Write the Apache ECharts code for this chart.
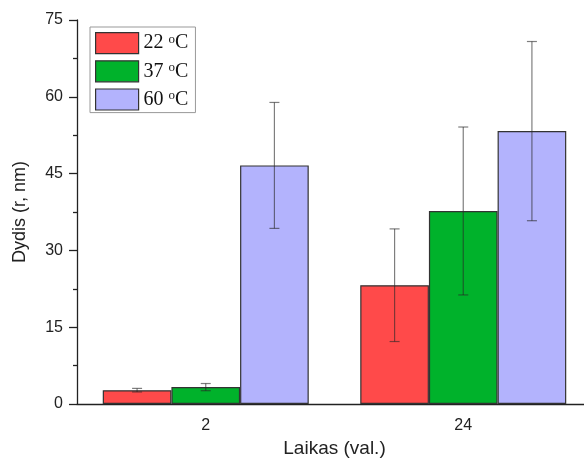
<!DOCTYPE html>
<html><head><meta charset="utf-8">
<script src="https://cdn.jsdelivr.net/npm/echarts@6/dist/echarts.min.js"></script>
<style>html,body{margin:0;padding:0;background:#fff}#c{width:584px;height:463px}</style>
</head><body><div id="c"></div>
<script>
const categories = ['2', '24'];
const seriesNames = ['22', '37', '60'];
const values22 = [2.7, 23.2];
const values37 = [3.3, 37.7];
const values60 = [46.6, 53.3];
const err22 = [0.35, 11.0];
const err37 = [0.7, 16.4];
const err60 = [12.3, 17.5];
const yTicks = [0, 15, 30, 45, 60, 75];

const colors = ['#FF4A4A', '#00B22B', '#B3B3FD'];
const valuesAll = [values22, values37, values60];
const errAll = [err22, err37, err60];
const GAP = 0.2;

const chart = echarts.init(document.getElementById('c'), null, {renderer: 'canvas'});
const series = [];
valuesAll.forEach((vals, i) => {
  series.push({
    name: seriesNames[i],
    type: 'bar',
    data: vals,
    barGap: '0%',
    barCategoryGap: (GAP * 100) + '%',
    itemStyle: {color: colors[i], borderColor: '#333', borderWidth: 1.2},
    emphasis: {disabled: true}
  });
});
valuesAll.forEach((vals, i) => {
  series.push({
    type: 'custom',
    name: seriesNames[i] + 'err',
    data: vals.map((v, k) => [k, v, errAll[i][k]]),
    z: 5,
    silent: true,
    renderItem: function (params, api) {
      const k = api.value(0), v = api.value(1), e = api.value(2);
      const band = api.size([1, 0])[0];
      const bw = band * (1 - GAP) / 3;
      const c = api.coord([k, v]);
      const x = c[0] + (i - 1) * bw;
      const yt = api.coord([k, v + e])[1];
      const yb = api.coord([k, v - e])[1];
      const cap = 5;
      const st = {stroke: 'rgba(40,40,40,0.6)', lineWidth: 1.2};
      return {type: 'group', children: [
        {type: 'line', shape: {x1: x, y1: yt, x2: x, y2: yb}, style: st},
        {type: 'line', shape: {x1: x - cap, y1: yt, x2: x + cap, y2: yt}, style: st},
        {type: 'line', shape: {x1: x - cap, y1: yb, x2: x + cap, y2: yb}, style: st}
      ]};
    }
  });
});

chart.setOption({
  animation: false,
  grid: {left: 77, right: -8, top: 20, bottom: 59, outerBoundsMode: 'none', containLabel: false},
  legend: {
    data: seriesNames.map(n => ({name: n, icon: 'rect'})),
    orient: 'vertical',
    left: 90, top: 27,
    itemWidth: 43, itemHeight: 21, itemGap: 6,
    padding: [5, 7, 2, 5],
    borderColor: '#999', borderWidth: 1,
    itemStyle: {borderColor: '#333', borderWidth: 1.2},
    formatter: function (n) { return '{a|' + n + ' }{s|o}{a|C}'; },
    textStyle: {
      rich: {
        a: {fontFamily: 'Liberation Serif', fontSize: 20, color: '#111'},
        s: {fontFamily: 'Liberation Serif', fontSize: 13, color: '#111', verticalAlign: 'top', padding: [0, 0, 8, 0]}
      }
    }
  },
  xAxis: {
    type: 'category',
    data: categories,
    name: 'Laikas (val.)',
    nameLocation: 'middle',
    nameGap: 34,
    nameTextStyle: {fontFamily: 'Liberation Sans', fontSize: 19, color: '#222'},
    axisLine: {lineStyle: {color: '#222', width: 1.3}},
    axisTick: {alignWithLabel: true, length: 7, lineStyle: {color: '#222', width: 1.3}},
    axisLabel: {fontFamily: 'Liberation Sans', fontSize: 16, color: '#222', margin: 14},
    splitLine: {show: false}
  },
  yAxis: {
    type: 'value',
    min: yTicks[0], max: yTicks[yTicks.length - 1], interval: 15,
    name: 'Dydis (r, nm)',
    nameLocation: 'middle',
    nameGap: 48,
    nameTextStyle: {fontFamily: 'Liberation Sans', fontSize: 18, color: '#222'},
    axisLine: {show: true, lineStyle: {color: '#222', width: 1.3}},
    axisTick: {show: true, length: 8, lineStyle: {color: '#222', width: 1.3}},
    minorTick: {show: true, splitNumber: 2, length: 4, lineStyle: {color: '#222', width: 1.3}},
    axisLabel: {fontFamily: 'Liberation Sans', fontSize: 16, color: '#222', margin: 14},
    splitLine: {show: false}
  },
  series: series
});
</script></body></html>
